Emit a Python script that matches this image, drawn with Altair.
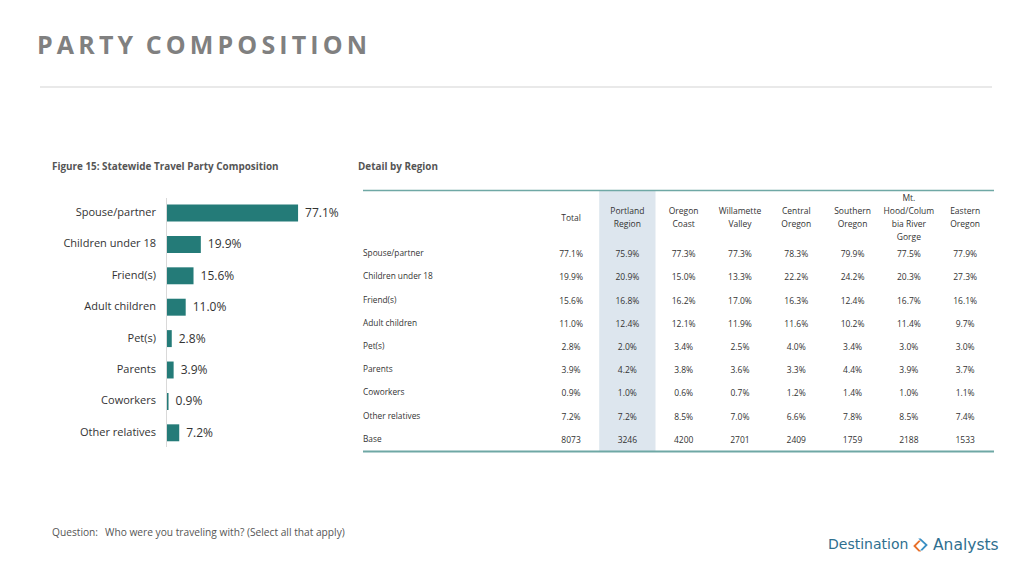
import altair as alt
import pandas as pd

# ---------------- data ----------------
categories = ["Spouse/partner", "Children under 18", "Friend(s)", "Adult children",
              "Pet(s)", "Parents", "Coworkers", "Other relatives"]
total = [77.1, 19.9, 15.6, 11.0, 2.8, 3.9, 0.9, 7.2]

regions = ["Total", "Portland Region", "Oregon Coast", "Willamette Valley",
           "Central Oregon", "Southern Oregon", "Mt. Hood/Columbia River Gorge", "Eastern Oregon"]
region_header_lines = [["Total"], ["Portland", "Region"], ["Oregon", "Coast"], ["Willamette", "Valley"],
                       ["Central", "Oregon"], ["Southern", "Oregon"],
                       ["Mt.", "Hood/Colum", "bia River", "Gorge"], ["Eastern", "Oregon"]]

portland = [75.9, 20.9, 16.8, 12.4, 2.0, 4.2, 1.0, 7.2]
oregon_coast = [77.3, 15.0, 16.2, 12.1, 3.4, 3.8, 0.6, 8.5]
willamette = [77.3, 13.3, 17.0, 11.9, 2.5, 3.6, 0.7, 7.0]
central = [78.3, 22.2, 16.3, 11.6, 4.0, 3.3, 1.2, 6.6]
southern = [79.9, 24.2, 12.4, 10.2, 3.4, 4.4, 1.4, 7.8]
mt_hood = [77.5, 20.3, 16.7, 11.4, 3.0, 3.9, 1.0, 8.5]
eastern = [77.9, 27.3, 16.1, 9.7, 3.0, 3.7, 1.1, 7.4]
base = [8073, 3246, 4200, 2701, 2409, 1759, 2188, 1533]

table_rows = categories + ["Base"]

# ---------------- tables ----------------
bar_df = pd.DataFrame({"cat": categories, "value": total,
                       "label": [f"{v:.1f}%" for v in total]})

series = [total, portland, oregon_coast, willamette, central, southern, mt_hood, eastern]
cells = []
for r, vals in zip(regions, series):
    for c, v in zip(categories, vals):
        cells.append({"col": r, "row": c, "txt": f"{v:.1f}%"})
for r, b in zip(regions, base):
    cells.append({"col": r, "row": "Base", "txt": str(b)})
cell_df = pd.DataFrame(cells)

head_rows = []
for r, lines in zip(regions, region_header_lines):
    n = len(lines)
    for i, ln in enumerate(lines):
        head_rows.append({"col": r, "line": ln, "pos": i - (n - 1) / 2})
head_df = pd.DataFrame(head_rows)
rowlab_df = pd.DataFrame({"row": table_rows})
shade_df = pd.DataFrame({"col": ["Portland Region"]})

FONT = "Open Sans"
BAR = "#247b78"
LINE = "#6fa8a5"

# ---------------- scales ----------------
bar_x = alt.Scale(domain=[0, 100], range=[159, 329], nice=False, zero=True)
bar_y = alt.Scale(domain=categories, range=[189.3, 440.5], paddingInner=0.46, paddingOuter=0.23)
tab_x = alt.Scale(domain=regions, range=[534.9, 985.3], paddingInner=0, paddingOuter=0)
tab_y = alt.Scale(domain=table_rows, range=[234.4, 443.6], paddingInner=0, paddingOuter=0)
head_y = alt.Scale(domain=[-2, 2], range=[209.5 - 26, 209.5 + 26], nice=False, zero=False)

blank = pd.DataFrame({"a": [0]})


def txt(s, x, y, size, color, weight="normal", align="left", font=FONT):
    return alt.Chart(blank).mark_text(
        text=s, align=align, baseline="middle", fontSize=size, color=color,
        fontWeight=weight, font=font
    ).encode(x=alt.value(x), y=alt.value(y))


def rule(x1, x2, y, color, w):
    return alt.Chart(blank).mark_rule(color=color, strokeWidth=w).encode(
        x=alt.value(x1), x2=alt.value(x2), y=alt.value(y))


# ---------------- slide text ----------------
title = txt("P\u2009A\u2009R\u2009T\u2009Y\u2002C\u2009O\u2009M\u2009P\u2009O\u2009S\u2009I\u2009T\u2009I\u2009O\u2009N",
            29, 38, 25, "#808080", weight="bold")
title_line = rule(32, 984, 79, "#d3d3d3", 1)
fig_title = txt("Figure 15: Statewide Travel Party Composition", 44, 159, 9.9, "#555555", weight="bold")
det_title = txt("Detail by Region", 350, 159, 9.9, "#555555", weight="bold")
q1 = txt("Question:", 44, 525, 10.2, "#555555")
q2 = txt("Who were you traveling with? (Select all that apply)", 97, 525, 10.2, "#555555")
logo1 = txt("Destination", 820, 537, 14, "#2f6f8f", font="DejaVu Sans")
logo2 = txt("Analysts", 925, 537, 15.5, "#2f6f8f", font="DejaVu Sans")
icon_o = alt.Chart(blank).mark_point(
    shape="M0.3,-1 L-0.7,0 L0.3,1 L0.75,1 L-0.2,0 L0.75,-1 Z", filled=True, color="#e8702a",
    size=120, opacity=1, strokeWidth=0
).encode(x=alt.value(909), y=alt.value(538))
icon_b = alt.Chart(blank).mark_point(
    shape="M-0.6,-1.2 L0.7,0 L-0.3,1 L-0.75,1 L0.2,0 L-1.05,-1.2 Z", filled=True, color="#3a8fc4",
    size=120, opacity=1, strokeWidth=0
).encode(x=alt.value(916), y=alt.value(537))

# ---------------- bar chart ----------------
bars = alt.Chart(bar_df).mark_bar(color=BAR).encode(
    x=alt.X("value:Q", scale=bar_x, axis=None),
    y=alt.Y("cat:N", scale=bar_y, axis=None, sort=categories),
)
bar_vals = alt.Chart(bar_df).mark_text(align="left", baseline="middle", dx=7, fontSize=12,
                                       color="#333333", font=FONT).encode(
    x=alt.X("value:Q", scale=bar_x, axis=None),
    y=alt.Y("cat:N", scale=bar_y, axis=None, sort=categories),
    text="label:N",
)
bar_cats = alt.Chart(bar_df).mark_text(align="right", baseline="middle", fontSize=11,
                                       color="#333333", font=FONT).encode(
    x=alt.value(148),
    y=alt.Y("cat:N", scale=bar_y, axis=None, sort=categories),
    text="cat:N",
)
bar_axis = alt.Chart(blank).mark_rule(color="#d9d9d9", strokeWidth=1).encode(
    x=alt.value(158.5), y=alt.value(190), y2=alt.value(439))

# ---------------- table ----------------
shade = alt.Chart(shade_df).mark_rect(color="#dde6ee").encode(
    x=alt.X("col:N", scale=tab_x, axis=None),
    y=alt.value(183), y2=alt.value(443),
)
heads = alt.Chart(head_df).mark_text(align="center", baseline="middle", fontSize=8.5,
                                     color="#333333", font=FONT).encode(
    x=alt.X("col:N", scale=tab_x, axis=None),
    y=alt.Y("pos:Q", scale=head_y, axis=None),
    text="line:N",
)
cell_txt = alt.Chart(cell_df).mark_text(align="center", baseline="middle", fontSize=8.5,
                                        color="#333333", font=FONT).encode(
    x=alt.X("col:N", scale=tab_x, axis=None),
    y=alt.Y("row:N", scale=tab_y, axis=None),
    text="txt:N",
)
row_labs = alt.Chart(rowlab_df).mark_text(align="left", baseline="middle", fontSize=8.3,
                                          color="#333333", font=FONT).encode(
    x=alt.value(355),
    y=alt.Y("row:N", scale=tab_y, axis=None),
    text="row:N",
)
top_line = rule(355, 986, 182.5, LINE, 1.5)
bot_line = rule(355, 986, 443.5, LINE, 2)

chart = alt.layer(
    title, title_line, fig_title, det_title, q1, q2, logo1, logo2, icon_o, icon_b,
    bar_axis, bars, bar_vals, bar_cats,
    shade, heads, cell_txt, row_labs, top_line, bot_line,
).resolve_scale(x="independent", y="independent").properties(
    width=1000, height=552, padding=0, background="white",
    autosize=alt.AutoSizeParams(type="none")
).configure_view(stroke="transparent", strokeWidth=0)

chart.save("out.html", embed_options={"renderer": "svg", "actions": False})
